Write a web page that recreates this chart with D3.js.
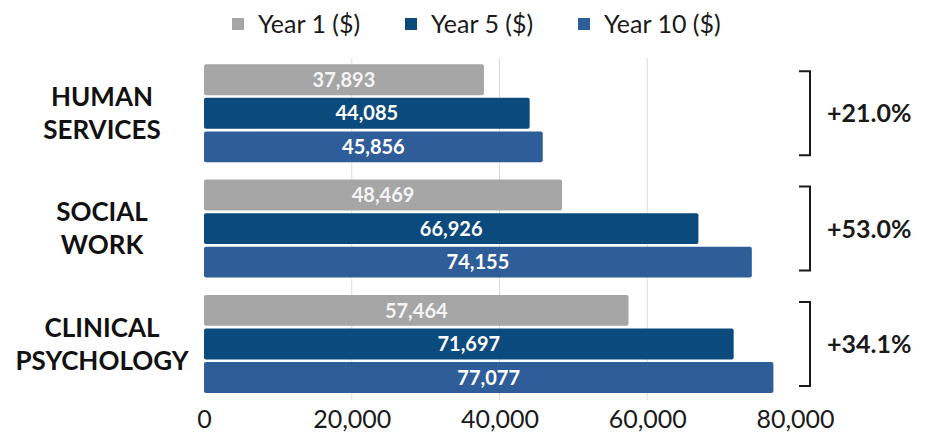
<!DOCTYPE html>
<html>
<head>
<meta charset="utf-8">
<script src="https://cdn.jsdelivr.net/npm/d3@7"></script>
<style>
html,body{margin:0;padding:0;background:#fff;}
svg{display:block;font-family:Lato, "Open Sans", sans-serif;}
</style>
</head>
<body>
<svg id="chart" width="934" height="435"></svg>
<script>
const categories = ["HUMAN SERVICES", "SOCIAL WORK", "CLINICAL PSYCHOLOGY"];
const categoryLines = [["HUMAN", "SERVICES"], ["SOCIAL", "WORK"], ["CLINICAL", "PSYCHOLOGY"]];
const seriesNames = ["Year 1 ($)", "Year 5 ($)", "Year 10 ($)"];
const year1 = [37893, 48469, 57464];
const year5 = [44085, 66926, 71697];
const year10 = [45856, 74155, 77077];
const growth = ["+21.0%", "+53.0%", "+34.1%"];
const xTicks = [0, 20000, 40000, 60000, 80000];
const colors = ["#a6a6a6", "#0b4a7d", "#2f5d9a"];

const series = [year1, year5, year10];
const svg = d3.select("#chart");

const x = d3.scaleLinear().domain([0, 80000]).range([204, 795]);
const y = d3.scaleBand().domain(categories).range([55.6, 401.6]).paddingInner(0.15).paddingOuter(0.075);
const yi = d3.scaleBand().domain(seriesNames).range([0, y.bandwidth()]).paddingInner(0.08);

// gridlines
svg.append("g").selectAll("line").data(xTicks.filter(d => d > 0 && d < 80000)).join("line")
  .attr("x1", d => x(d)).attr("x2", d => x(d))
  .attr("y1", 58).attr("y2", 400)
  .attr("stroke", "#dcdcdc").attr("stroke-width", 1);

// x axis labels
const xAxis = d3.axisBottom(x).tickValues(xTicks).tickFormat(d3.format(",")).tickSize(0).tickPadding(0);
const ax = svg.append("g").attr("transform", "translate(0,410)").call(xAxis);
ax.select(".domain").remove();
ax.selectAll("text").attr("font-size", 25).attr("fill", "#1a1a1a").attr("font-family", "Lato").attr("dy", "0.71em");

// bars
const groups = svg.append("g").selectAll("g").data(categories).join("g")
  .attr("transform", d => `translate(0,${y(d)})`);

groups.each(function(cat, ci) {
  const g = d3.select(this);
  seriesNames.forEach((s, si) => {
    const v = series[si][ci];
    g.append("rect")
      .attr("x", x(0)).attr("y", yi(s))
      .attr("width", x(v) - x(0)).attr("height", yi.bandwidth())
      .attr("rx", 2).attr("fill", colors[si]);
    g.append("text")
      .attr("x", (x(0) + x(v)) / 2).attr("y", yi(s) + yi.bandwidth() / 2)
      .attr("dy", "0.36em").attr("text-anchor", "middle")
      .attr("font-size", 20).attr("font-weight", 700)
      .attr("fill", si === 0 ? "#f4f4f4" : "#ffffff")
      .text(d3.format(",")(v));
  });
  // category label
  const t = g.append("text").attr("text-anchor", "middle").attr("font-size", 26).attr("font-weight", 700).attr("fill", "#111");
  const lines = categoryLines[ci];
  lines.forEach((ln, li) => {
    t.append("tspan").attr("x", 102).attr("y", y.bandwidth() / 2 + (li - (lines.length - 1) / 2) * 33).attr("dy", "0.36em").text(ln);
  });
  // bracket
  const top = 7, bot = y.bandwidth() - 7;
  g.append("path")
    .attr("d", `M799,${top}H810V${bot}H799`)
    .attr("fill", "none").attr("stroke", "#1a1a1a").attr("stroke-width", 2);
  g.append("text").attr("x", 827).attr("y", y.bandwidth() / 2).attr("dy", "0.36em")
    .attr("font-size", 25).attr("font-weight", 700).attr("fill", "#1a1a1a").text(growth[ci]);
});

// legend
const legendX = [232, 405, 578];
const leg = svg.append("g").selectAll("g").data(seriesNames).join("g")
  .attr("transform", (d, i) => `translate(${legendX[i]},0)`);
leg.append("rect").attr("x", 0).attr("y", 18).attr("width", 12).attr("height", 12).attr("fill", (d, i) => colors[i]);
leg.append("text").attr("x", 26).attr("y", 24).attr("dy", "0.36em").attr("font-size", 25).attr("fill", "#1a1a1a").text(d => d);
</script>
</body>
</html>
